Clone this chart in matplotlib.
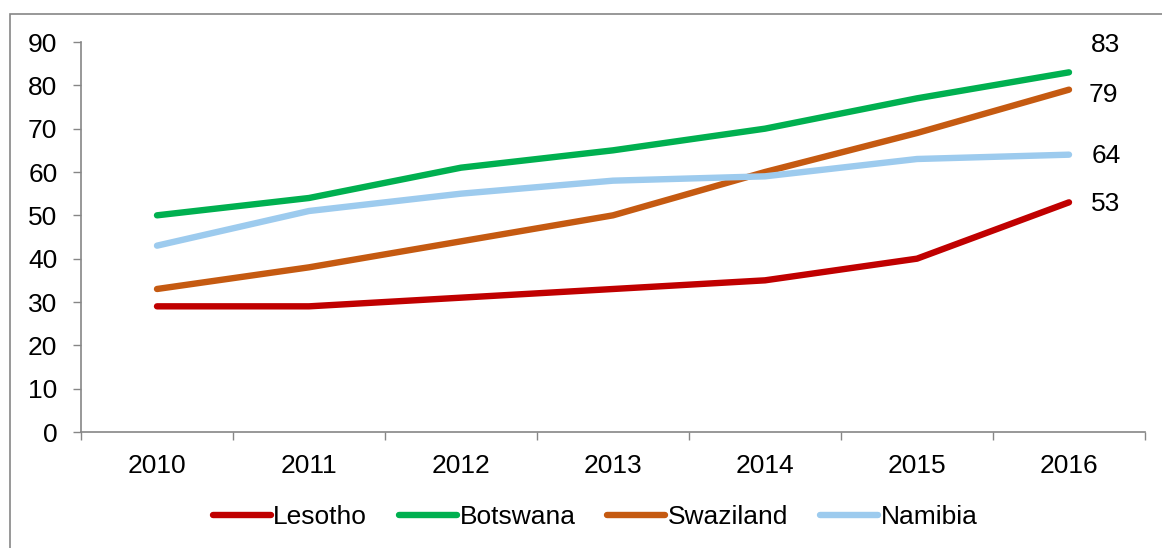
import matplotlib
matplotlib.use("agg")
import matplotlib.pyplot as plt
from matplotlib.patches import Rectangle
import numpy as np

# data
years = ["2010", "2011", "2012", "2013", "2014", "2015", "2016"]
lesotho = [29, 29, 31, 33, 35, 40, 53]
botswana = [50, 54, 61, 65, 70, 77, 83]
swaziland = [33, 38, 44, 50, 60, 69, 79]
namibia = [43, 51, 55, 58, 59, 63, 64]
names = ["Lesotho", "Botswana", "Swaziland", "Namibia"]
colors = ["#C00000", "#00B050", "#C55A11", "#9DCBEE"]

plt.rcParams["font.family"] = ["Liberation Sans", "DejaVu Sans"]
fs = 19

fig = plt.figure(figsize=(11.62, 5.48), dpi=100)
ax = fig.add_axes([81 / 1162, 1 - 432 / 548, (1145 - 81) / 1162, (432 - 42) / 548])

x = np.arange(len(years))
series = [lesotho, botswana, swaziland, namibia]
for vals, name, c in zip(series, names, colors):
    ax.plot(x, vals, color=c, lw=4.6, solid_capstyle="round",
            solid_joinstyle="round", label=name)

# end labels
offsets = {"Botswana": (16, 20), "Swaziland": (14, -4), "Namibia": (16, -1), "Lesotho": (16, -1)}
for vals, name in zip(series, names):
    ax.annotate(str(vals[-1]), (x[-1], vals[-1]), xytext=offsets[name],
                textcoords="offset points", fontsize=fs, va="center", ha="left")

ax.set_xlim(-0.5, len(years) - 0.5)
ax.set_ylim(0, 90)
ax.set_yticks(range(0, 91, 10))
ax.set_xticks(x)
ax.set_xticklabels(years)
ax.set_xticks(np.arange(-0.5, len(years), 1), minor=True)
ax.tick_params(axis="x", which="major", length=0, pad=16, labelsize=fs)
ax.tick_params(axis="x", which="minor", length=6, color="#868686", width=1)
ax.tick_params(axis="y", length=6, color="#868686", width=1, pad=11, labelsize=fs)

for s in ["top", "right"]:
    ax.spines[s].set_visible(False)
for s in ["left", "bottom"]:
    ax.spines[s].set_color("#868686")
    ax.spines[s].set_linewidth(1.2)

ax.legend(loc="center", bbox_to_anchor=(595 / 1162, (548 - 517) / 548), bbox_transform=fig.transFigure,
          ncol=4, frameon=False, fontsize=fs, handlelength=2.2, handletextpad=0.1,
          columnspacing=1.2)

# outer chart frame (cut off at right and bottom)
fig.patches.append(Rectangle((10 / 1162, -0.1), 1.2, 1 - 14 / 548 + 0.1,
                             transform=fig.transFigure, fill=False,
                             edgecolor="#868686", lw=1.2))

fig.savefig("out.png", dpi=100)
